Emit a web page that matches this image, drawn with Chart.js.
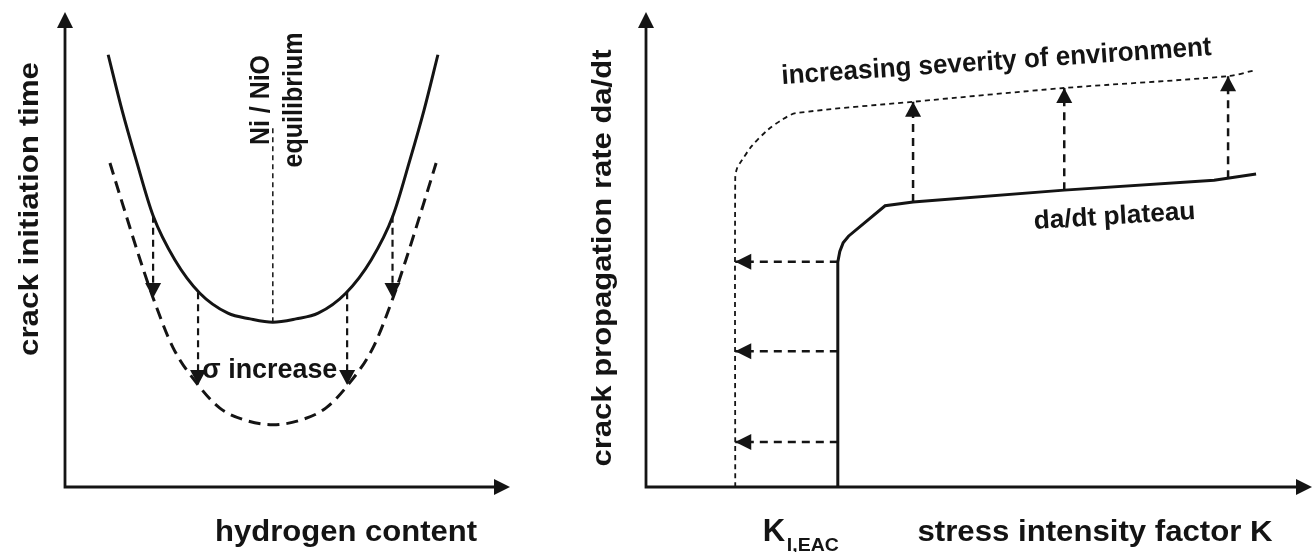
<!DOCTYPE html>
<html>
<head>
<meta charset="utf-8">
<title>Crack initiation time and crack propagation rate</title>
<script src="https://cdn.jsdelivr.net/npm/chart.js@4.4.1/dist/chart.umd.min.js"></script>
<style>
  html, body { margin: 0; padding: 0; background: #ffffff; }
  #stage { position: relative; width: 1316px; height: 552px; overflow: hidden; background: #ffffff; }
  #stage canvas { position: absolute; top: 0; }
  #initCanvas { left: 0; }
  #growthCanvas { left: 570px; }
</style>
</head>
<body>
<div id="stage">
  <canvas id="initCanvas" width="570" height="552"></canvas>
  <canvas id="growthCanvas" width="746" height="552"></canvas>
</div>
<script>
// ---------- Left panel: crack initiation time vs hydrogen content (arbitrary units 0-100) ----------
const baseH2     = [9.7, 12.8, 16.0, 19.8, 24.7, 30.3, 36.6, 41.6, 46.7, 51.9, 56.9, 63.1, 68.8, 73.7, 77.5, 80.7, 83.8];
const baseTime   = [91.0, 79.4, 68.8, 57.1, 47.8, 40.8, 36.6, 35.4, 34.7, 35.4, 36.6, 40.8, 47.8, 57.1, 68.8, 79.4, 91.0];
const stressH2   = [10.1, 13.0, 16.9, 19.8, 24.3, 29.9, 34.8, 40.4, 46.7, 53.0, 58.6, 63.6, 69.2, 73.7, 76.6, 80.5, 83.4];
const stressTime = [68.2, 59.4, 47.8, 39.8, 29.3, 21.5, 16.6, 14.1, 13.1, 14.1, 16.6, 21.5, 29.3, 39.8, 47.8, 59.4, 68.2];
const eqH2 = 46.7;                 // Ni / NiO equilibrium
const eqSpan = [34.7, 75.6];
const sigmaArrowH2   = [19.8, 29.9, 63.4, 73.6];
const sigmaArrowFrom = [57.1, 41.0, 41.0, 57.1];
const sigmaArrowTo   = [39.8, 21.5, 21.5, 39.8];

// ---------- Right panel: crack propagation rate vs stress intensity factor (arbitrary units 0-100) ----------
const rateK      = [28.8, 28.8, 29.1, 29.6, 30.4, 35.9, 40.1, 62.8, 85.3, 91.6];
const rateDadt   = [0, 47.4, 49.6, 51.4, 52.8, 59.2, 60.0, 62.5, 64.6, 65.9];
const severeK    = [13.4, 13.4, 13.7, 14.4, 15.9, 18.3, 20.4, 22.5, 40.1, 62.8, 87.4, 91.6];
const severeDadt = [0, 65.1, 67.2, 68.8, 71.8, 75.2, 77.3, 78.7, 81.1, 84.0, 86.5, 87.8];
const shiftUpK    = [40.1, 62.8, 87.4];
const shiftUpFrom = [60.0, 62.5, 65.0];
const shiftUpTo   = [81.1, 84.0, 86.5];
const shiftLeftDadt = [47.4, 28.6, 9.5];
const kIEAC = 28.8;
const kSevere = 13.4;

const INK = '#141414';
const FONT = '"Liberation Sans", Arial, Helvetica, sans-serif';

function curve(xs, ys) { return xs.map((x, i) => ({ x: x, y: ys[i] })); }

function lineSet(points, width, dash, extra) {
  return Object.assign({
    data: points,
    borderColor: INK,
    backgroundColor: INK,
    borderWidth: width,
    borderDash: dash || [],
    borderCapStyle: 'butt',
    pointRadius: 0,
    pointHoverRadius: 0,
    fill: false,
    tension: 0
  }, extra || {});
}

function head(ctx, tipX, tipY, angle, len, half) {
  ctx.save();
  ctx.translate(tipX, tipY);
  ctx.rotate(angle);
  ctx.beginPath();
  ctx.moveTo(0, 0);
  ctx.lineTo(-len, -half);
  ctx.lineTo(-len, half);
  ctx.closePath();
  ctx.fillStyle = INK;
  ctx.fill();
  ctx.restore();
}

// bold label; (x, y) is the baseline anchor, len stretches the run to a given length
function text(ctx, str, x, y, o) {
  ctx.save();
  ctx.translate(x, y);
  if (o.rot) ctx.rotate(o.rot * Math.PI / 180);
  ctx.font = 'bold ' + o.size + 'px ' + FONT;
  ctx.textAlign = o.align || 'center';
  ctx.textBaseline = 'alphabetic';
  if (o.len) ctx.scale(o.len / ctx.measureText(str).width, 1);
  ctx.fillStyle = INK;
  ctx.fillText(str, 0, 0);
  ctx.restore();
}

// axis lines with filled arrowheads at the far ends
const axesWithArrows = {
  id: 'axesWithArrows',
  beforeDatasetsDraw(chart) {
    const ctx = chart.ctx, x = chart.scales.x, y = chart.scales.y;
    const ox = x.getPixelForValue(x.min), oy = y.getPixelForValue(y.min);
    const ex = x.getPixelForValue(x.max), ey = y.getPixelForValue(y.max);
    ctx.save();
    ctx.strokeStyle = INK;
    ctx.lineWidth = 2.8;
    ctx.beginPath();
    ctx.moveTo(ox, ey + 10);
    ctx.lineTo(ox, oy);
    ctx.lineTo(ex - 10, oy);
    ctx.stroke();
    ctx.restore();
    head(ctx, ox, ey, -Math.PI / 2, 16, 8);
    head(ctx, ex, oy, 0, 16, 8);
  }
};

// arrowhead at the last point of datasets flagged with arrowHead
const arrowTips = {
  id: 'arrowTips',
  afterDatasetsDraw(chart) {
    chart.data.datasets.forEach((ds, i) => {
      if (!ds.arrowHead) return;
      const pts = chart.getDatasetMeta(i).data;
      const a = pts[pts.length - 2], b = pts[pts.length - 1];
      head(chart.ctx, b.x, b.y, Math.atan2(b.y - a.y, b.x - a.x), ds.arrowHead[0], ds.arrowHead[1]);
    });
  }
};

function panelOptions(pad) {
  return {
    responsive: false,
    animation: false,
    events: [],
    layout: { padding: pad },
    plugins: { legend: { display: false }, tooltip: { enabled: false } },
    scales: {
      x: { type: 'linear', min: 0, max: 100, display: false },
      y: { type: 'linear', min: 0, max: 100, display: false }
    }
  };
}

// ---------- left chart ----------
const initDatasets = [
  lineSet(curve(baseH2, baseTime), 3, [], { cubicInterpolationMode: 'monotone' }),
  lineSet(curve(stressH2, stressTime), 3, [12, 7], { cubicInterpolationMode: 'monotone' }),
  lineSet([{ x: eqH2, y: eqSpan[0] }, { x: eqH2, y: eqSpan[1] }], 1.5, [5, 4])
].concat(sigmaArrowH2.map((h, i) =>
  lineSet([{ x: h, y: sigmaArrowFrom[i] }, { x: h, y: sigmaArrowTo[i] }], 2.2, [7, 5], { arrowHead: [15, 8] })
));

const initLabels = {
  id: 'initLabels',
  afterDraw(chart) {
    const ctx = chart.ctx, ca = chart.chartArea, x = chart.scales.x, y = chart.scales.y;
    const eqPx = x.getPixelForValue(eqH2);
    text(ctx, 'crack initiation time', ca.left - 27, 209, { rot: -90, size: 28, len: 294 });
    text(ctx, 'hydrogen content', 346, ca.bottom + 54, { size: 30, len: 262 });
    text(ctx, 'Ni / NiO', eqPx - 4, 100, { rot: -90, size: 27, len: 90 });
    text(ctx, 'equilibrium', eqPx + 29, 100, { rot: -90, size: 27, len: 135 });
    text(ctx, '\u03C3 increase', eqPx - 3, y.getPixelForValue(22.9), { size: 28, len: 135 });
  }
};

new Chart(document.getElementById('initCanvas'), {
  type: 'line',
  data: { datasets: initDatasets },
  options: panelOptions({ left: 65, top: 12, right: 60, bottom: 65 }),
  plugins: [axesWithArrows, arrowTips, initLabels]
});

// ---------- right chart ----------
const growthDatasets = [
  lineSet(curve(rateK, rateDadt), 3, []),
  lineSet(curve(severeK, severeDadt), 1.8, [5, 4], { tension: 0.3 })
].concat(shiftUpK.map((k, i) =>
  lineSet([{ x: k, y: shiftUpFrom[i] }, { x: k, y: shiftUpTo[i] }], 2.5, [8, 6], { arrowHead: [15, 8] })
)).concat(shiftLeftDadt.map(v =>
  lineSet([{ x: kIEAC, y: v }, { x: kSevere, y: v }], 2.5, [8, 6], { arrowHead: [16, 8] })
));

const growthLabels = {
  id: 'growthLabels',
  afterDraw(chart) {
    const ctx = chart.ctx, ca = chart.chartArea, x = chart.scales.x;
    const kPx = x.getPixelForValue(kIEAC);
    text(ctx, 'crack propagation rate da/dt', ca.left - 35, 258, { rot: -90, size: 28, len: 417 });
    text(ctx, 'K', kPx - 75, ca.bottom + 54, { size: 31, align: 'left' });
    text(ctx, 'I,EAC', kPx - 51, ca.bottom + 64, { size: 18, align: 'left', len: 52 });
    text(ctx, 'stress intensity factor K', 525, ca.bottom + 54, { size: 30, len: 355 });
    text(ctx, 'increasing severity of environment', 427, 69.5, { rot: -3.86, size: 27, len: 431 });
    text(ctx, 'da/dt plateau', 545, 224, { rot: -3.6, size: 26, len: 162 });
  }
};

new Chart(document.getElementById('growthCanvas'), {
  type: 'line',
  data: { datasets: growthDatasets },
  options: panelOptions({ left: 76, top: 12, right: 4, bottom: 65 }),
  plugins: [axesWithArrows, arrowTips, growthLabels]
});
</script>
</body>
</html>
